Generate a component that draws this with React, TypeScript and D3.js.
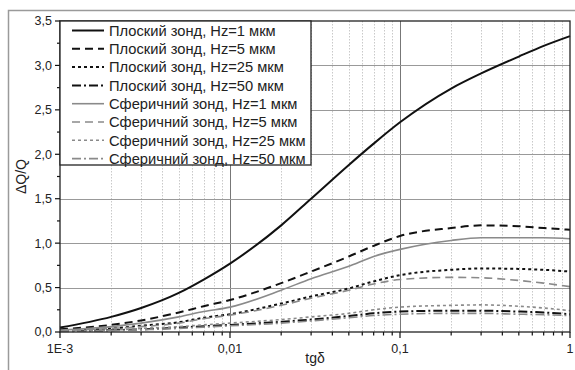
import { useEffect, useRef } from 'react'
import * as d3 from 'd3'

const X_VALUES = [0.001, 0.002, 0.003, 0.005, 0.007, 0.01, 0.02, 0.03, 0.05, 0.07, 0.1, 0.2, 0.3, 0.5, 0.7, 1]

const PLANAR_1 = [0.05, 0.17, 0.27, 0.44, 0.59, 0.77, 1.2, 1.5, 1.88, 2.12, 2.36, 2.74, 2.91, 3.1, 3.22, 3.33]
const PLANAR_5 = [0.03, 0.08, 0.13, 0.22, 0.29, 0.36, 0.55, 0.68, 0.85, 0.97, 1.08, 1.17, 1.2, 1.19, 1.17, 1.15]
const PLANAR_25 = [0.02, 0.04, 0.07, 0.11, 0.16, 0.2, 0.32, 0.4, 0.49, 0.57, 0.64, 0.7, 0.715, 0.71, 0.7, 0.68]
const PLANAR_50 = [0.01, 0.02, 0.03, 0.05, 0.065, 0.08, 0.115, 0.14, 0.18, 0.21, 0.23, 0.24, 0.24, 0.23, 0.22, 0.2]
const SPHERE_1 = [0.02, 0.06, 0.1, 0.17, 0.23, 0.28, 0.47, 0.6, 0.74, 0.85, 0.93, 1.03, 1.06, 1.06, 1.06, 1.05]
const SPHERE_5 = [0.015, 0.04, 0.06, 0.1, 0.15, 0.19, 0.3, 0.38, 0.47, 0.54, 0.59, 0.615, 0.61, 0.58, 0.55, 0.51]
const SPHERE_25 = [0.01, 0.02, 0.04, 0.06, 0.08, 0.1, 0.14, 0.17, 0.21, 0.25, 0.28, 0.3, 0.305, 0.29, 0.27, 0.24]
const SPHERE_50 = [0.005, 0.015, 0.025, 0.04, 0.055, 0.07, 0.1, 0.125, 0.16, 0.185, 0.2, 0.21, 0.21, 0.2, 0.195, 0.185]

const SERIES_LABELS = [
  'Плоский зонд, Hz=1 мкм',
  'Плоский зонд, Hz=5 мкм',
  'Плоский зонд, Hz=25 мкм',
  'Плоский зонд, Hz=50 мкм',
  'Сферичний зонд, Hz=1 мкм',
  'Сферичний зонд, Hz=5 мкм',
  'Сферичний зонд, Hz=25 мкм',
  'Сферичний зонд, Hz=50 мкм',
]
const SERIES_VALUES = [PLANAR_1, PLANAR_5, PLANAR_25, PLANAR_50, SPHERE_1, SPHERE_5, SPHERE_25, SPHERE_50]

const Y_TICKS = [0, 0.5, 1, 1.5, 2, 2.5, 3, 3.5]
const X_TICKS = [0.001, 0.01, 0.1, 1]
const X_TICK_LABELS = ['1E-3', '0,01', '0,1', '1']

const BLACK = '#111'
const GRAY = '#8a8a8a'
const DASHES = ['', '8,5', '3,3', '9,3,2,3']

export default function App() {
  const svgRef = useRef<SVGSVGElement>(null)

  useEffect(() => {
    const W = 575
    const H = 370
    const margin = { top: 21, right: 5, bottom: 38, left: 60 }
    const innerW = W - margin.left - margin.right
    const innerH = H - margin.top - margin.bottom
    const font = '"Liberation Sans", Arial, sans-serif'

    const svg = d3.select(svgRef.current)
    svg.selectAll('*').remove()

    const x = d3.scaleLog().domain([0.001, 1]).range([0, innerW])
    const y = d3.scaleLinear().domain([0, 3.5]).range([innerH, 0])

    // outer frame
    svg.append('path')
      .attr('d', `M8.5,${H + 2} V10.5 H${W + 2}`)
      .attr('fill', 'none')
      .attr('stroke', '#9a9a9a')
      .attr('stroke-width', 1.5)

    const g = svg.append('g').attr('transform', `translate(${margin.left},${margin.top})`)

    // minor vertical grid
    const minor: number[] = []
    for (const dec of [0.001, 0.01, 0.1]) for (let k = 2; k <= 9; k++) minor.push(dec * k)
    g.selectAll('line.vminor')
      .data(minor)
      .join('line')
      .attr('x1', (d) => Math.round(x(d)) + 0.5)
      .attr('x2', (d) => Math.round(x(d)) + 0.5)
      .attr('y1', 0)
      .attr('y2', innerH)
      .attr('stroke', '#bbb')
      .attr('stroke-width', 0.8)
      .attr('stroke-dasharray', '1.5,1.5')

    // major grid
    g.selectAll('line.vmajor')
      .data([0.01, 0.1])
      .join('line')
      .attr('x1', (d) => Math.round(x(d)) + 0.5)
      .attr('x2', (d) => Math.round(x(d)) + 0.5)
      .attr('y1', 0)
      .attr('y2', innerH)
      .attr('stroke', '#777')
      .attr('stroke-width', 1)
    g.selectAll('line.hmajor')
      .data(Y_TICKS.slice(1, -1))
      .join('line')
      .attr('x1', 0)
      .attr('x2', innerW)
      .attr('y1', (d) => Math.round(y(d)) + 0.5)
      .attr('y2', (d) => Math.round(y(d)) + 0.5)
      .attr('stroke', '#999')
      .attr('stroke-width', 1.2)

    // curves
    const line = d3.line<number>()
      .x((_, i) => x(X_VALUES[i]))
      .y((d) => y(d))
      .curve(d3.curveMonotoneX)

    SERIES_VALUES.forEach((vals, i) => {
      const gray = i >= 4
      g.append('path')
        .attr('d', line(vals))
        .attr('fill', 'none')
        .attr('stroke', gray ? GRAY : BLACK)
        .attr('stroke-width', gray ? 1.6 : 2)
        .attr('stroke-dasharray', DASHES[i % 4] || null)
    })

    // frame
    g.append('rect')
      .attr('x', 0)
      .attr('y', 0)
      .attr('width', innerW)
      .attr('height', innerH)
      .attr('fill', 'none')
      .attr('stroke', '#222')
      .attr('stroke-width', 1.3)

    // y axis
    const yMinor = d3.range(0.25, 3.5, 0.5)
    g.selectAll('line.ytick')
      .data(Y_TICKS)
      .join('line')
      .attr('x1', -5)
      .attr('x2', 0)
      .attr('y1', (d) => y(d))
      .attr('y2', (d) => y(d))
      .attr('stroke', BLACK)
      .attr('stroke-width', 1.2)
    g.selectAll('line.yminor')
      .data(yMinor)
      .join('line')
      .attr('x1', -3)
      .attr('x2', 0)
      .attr('y1', (d) => y(d))
      .attr('y2', (d) => y(d))
      .attr('stroke', BLACK)
      .attr('stroke-width', 1.2)
    g.selectAll('text.ylab')
      .data(Y_TICKS)
      .join('text')
      .attr('x', -8)
      .attr('y', (d) => y(d))
      .attr('dy', '0.35em')
      .attr('text-anchor', 'end')
      .attr('font-family', font)
      .attr('font-size', 12.5)
      .attr('fill', '#222')
      .text((d) => d.toFixed(1).replace('.', ','))

    // x axis
    g.selectAll('line.xtick')
      .data(X_TICKS)
      .join('line')
      .attr('x1', (d) => x(d))
      .attr('x2', (d) => x(d))
      .attr('y1', innerH)
      .attr('y2', innerH + 6)
      .attr('stroke', BLACK)
      .attr('stroke-width', 1.2)
    g.selectAll('line.xminor')
      .data(minor)
      .join('line')
      .attr('x1', (d) => x(d))
      .attr('x2', (d) => x(d))
      .attr('y1', innerH)
      .attr('y2', innerH + 3.5)
      .attr('stroke', BLACK)
      .attr('stroke-width', 1.2)
    g.selectAll('text.xlab')
      .data(X_TICKS)
      .join('text')
      .attr('x', (d) => x(d))
      .attr('y', innerH + 21)
      .attr('text-anchor', 'middle')
      .attr('font-family', font)
      .attr('font-size', 12.5)
      .attr('fill', '#222')
      .text((_, i) => X_TICK_LABELS[i])

    // axis titles
    g.append('text')
      .attr('x', innerW / 2)
      .attr('y', innerH + 31)
      .attr('text-anchor', 'middle')
      .attr('font-family', font)
      .attr('font-size', 14)
      .attr('fill', '#222')
      .text('tgδ')
    g.append('text')
      .attr('transform', `translate(${-margin.left + 26},${y(1.75)}) rotate(-90)`)
      .attr('text-anchor', 'middle')
      .attr('font-family', font)
      .attr('font-size', 14)
      .attr('fill', '#222')
      .text('ΔQ/Q')

    // legend
    const rowH = 18.3
    const lg = g.append('g')
    lg.append('rect')
      .attr('x', 0)
      .attr('y', 0)
      .attr('width', 251)
      .attr('height', 144)
      .attr('fill', '#fff')
      .attr('stroke', '#222')
      .attr('stroke-width', 1.3)
    SERIES_LABELS.forEach((label, i) => {
      const gray = i >= 4
      const cy = 9.5 + i * rowH
      lg.append('line')
        .attr('x1', 12)
        .attr('x2', 44)
        .attr('y1', cy)
        .attr('y2', cy)
        .attr('stroke', gray ? GRAY : BLACK)
        .attr('stroke-width', gray ? 1.6 : 2)
        .attr('stroke-dasharray', DASHES[i % 4] || null)
      lg.append('text')
        .attr('x', 49)
        .attr('y', cy)
        .attr('dy', '0.36em')
        .attr('font-family', font)
        .attr('font-size', 14.7)
        .attr('fill', '#222')
        .text(label)
    })
  }, [])

  return (
    <svg
      ref={svgRef}
      width={575}
      height={370}
      style={{ position: 'absolute', left: 0, top: 0, background: '#fff' }}
    />
  )
}
